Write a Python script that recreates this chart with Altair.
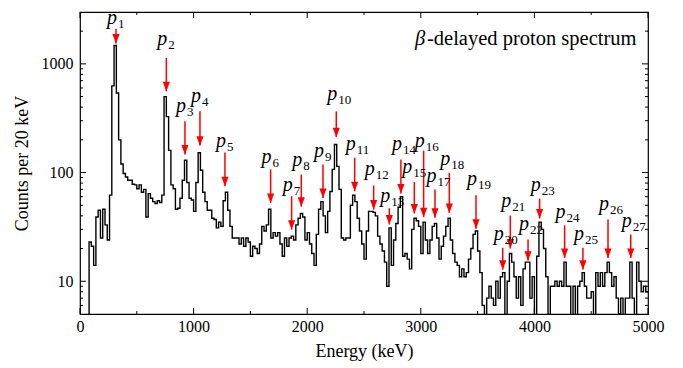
import altair as alt
import pandas as pd

W, H = 568, 302
FONT = "Liberation Serif"
RED = "#ff0000"

# ---- histogram: counts per 20 keV bin, first bin starts at 80 keV ----
bin_start = 80
bin_width = 20
counts = [
    23, 21, 14, 39, 45, 25, 46, 33, 24, 62,
    627, 1476, 540, 200, 120, 98, 91, 85, 85, 78,
    77, 71, 77, 66, 70, 39, 64, 58, 54, 52,
    55, 53, 62, 500, 327, 160, 77, 71, 46, 47,
    58, 85, 130, 81, 58, 56, 44, 81, 152, 105,
    66, 54, 45, 45, 38, 37, 31, 35, 32, 55,
    66, 45, 32, 25, 25, 25, 22, 25, 21, 25,
    23, 17, 21, 20, 18, 22, 32, 29, 33, 46,
    25, 28, 26, 28, 22, 17, 25, 21, 25, 26,
    24, 33, 38, 42, 39, 24, 28, 22, 18, 14,
    27, 46, 54, 40, 28, 44, 67, 107, 181, 114,
    70, 25, 24, 25, 25, 50, 62, 54, 38, 29,
    22, 16, 29, 44, 44, 43, 40, 26, 22, 19,
    15, 9, 31, 14, 24, 34, 48, 60, 17, 18,
    16, 13, 30, 38, 36, 32, 18, 35, 24, 18,
    24, 32, 34, 25, 16, 21, 26, 32, 38, 24,
    18, 15, 14, 11, 13, 11, 12, 16, 20, 27,
    29, 19, 12, 6, 4, 7, 9, 7, 6, 10,
    7, 11, 12, 4, 10, 18, 15, 11, 7, 11,
    6, 13, 15, 15, 7, 11, 4, 17, 35, 30,
    20, 11, 4, 9, 9, 10, 9, 10, 9, 15,
    9, 9, 4, 9, 4, 9, 10, 12, 9, 7,
    7, 8, 4, 12, 9, 12, 9, 12, 15, 12,
    9, 11, 7, 5, 7, 4, 7, 7, 15, 7,
    4, 15, 10, 8, 9, 8,
]

# ---- peak annotations ----
peak_names = [str(i) for i in range(1, 28)]
arrow_energy = [317, 760, 924, 1056, 1276, 1678, 1863, 1948, 2139, 2256,
                2418, 2585, 2723, 2825, 2943, 3025, 3125, 3251, 3486, 3721,
                3788, 3944, 4046, 4266, 4427, 4648, 4848]
arrow_tail = [2099, 1135, 297, 366, 153, 107, 60.5, 95.9, 118.6, 366,
              136.8, 75.9, 47, 131.8, 81.8, 159, 69.8, 99.5, 61.7, 20.3,
              40.2, 24.2, 57.7, 32.7, 20.3, 37, 26.9]
arrow_tip = [1538, 560, 147, 177, 74.8, 52.6, 29.9, 48.6, 58.5, 212,
             67.3, 45.7, 33.3, 64.1, 42, 38.9, 38.5, 42.6, 30.5, 12.8,
             20, 15.5, 37.8, 16.4, 12.8, 16.4, 16.4]
label_energy = [317, 760, 924, 1056, 1276, 1678, 1863, 1948, 2139, 2256,
                2418, 2585, 2723, 2825, 2915, 3025, 3130, 3251, 3486, 3721,
                3788, 3944, 4046, 4266, 4427, 4648, 4848]
label_level = [2466, 1570, 380, 470, 181, 129, 71.3, 121, 146.6, 487,
               171.8, 100, 57, 170, 104, 181, 86, 125, 80.4, 25.5,
               50.8, 31.2, 71.3, 40.2, 25.2, 47.7, 33.3]

# ---- axis ticks ----
x_major = [0, 1000, 2000, 3000, 4000, 5000]
x_minor = [500, 1500, 2500, 3500, 4500]
y_major = [10, 100, 1000]
y_minor = [6, 7, 8, 9, 20, 30, 40, 50, 60, 70, 80, 90,
           200, 300, 400, 500, 600, 700, 800, 900, 2000]

xs = alt.Scale(domain=[0, 5000], nice=False, zero=False)
ys = alt.Scale(type="log", domain=[5, 3000], nice=False)

x_axis = alt.Axis(
    values=x_major, format="d", ticks=False, tickSize=0, domain=False, grid=False,
    labelFont=FONT, labelFontSize=16, labelColor="black", labelPadding=4,
    labelFlush=False, labelOverlap=False,
    title="Energy (keV)", titleFont=FONT, titleFontSize=18,
    titleFontWeight="normal", titleColor="black", titlePadding=8)
y_axis = alt.Axis(
    values=y_major, format="d", ticks=False, tickSize=0, domain=False, grid=False,
    labelFont=FONT, labelFontSize=16, labelColor="black", labelPadding=7,
    labelFlush=False, labelOverlap=False,
    title="Counts per 20 keV", titleFont=FONT, titleFontSize=18,
    titleFontWeight="normal", titleColor="black", titlePadding=10)


def X(field):
    return alt.X(field, scale=xs, axis=x_axis)


def Y(field):
    return alt.Y(field, scale=ys, axis=y_axis)


# step outline: rise from below the axis at the first edge, close at last edge
n = len(counts)
step_x = [bin_start] + [bin_start + bin_width * i for i in range(n)] + [bin_start + bin_width * n]
step_y = [1] + counts + [counts[-1]]
hist = pd.DataFrame({"energy": step_x, "count": step_y, "i": list(range(len(step_x)))})

line = alt.Chart(hist).mark_line(
    interpolate="step-after", color="black", strokeWidth=1.4, clip=True
).encode(x=X("energy:Q"), y=Y("count:Q"), order="i:Q")


def yticks(vals, x0, x1):
    return alt.Chart(pd.DataFrame({"count": vals})).mark_rule(color="black", strokeWidth=1).encode(
        y=Y("count:Q"), x=alt.value(x0), x2=alt.value(x1))


def xticks(vals, y0, y1):
    return alt.Chart(pd.DataFrame({"energy": vals})).mark_rule(color="black", strokeWidth=1).encode(
        x=X("energy:Q"), y=alt.value(y0), y2=alt.value(y1))


tick_layers = [
    yticks(y_major, 0, 6), yticks(y_minor, 0, 3),
    yticks(y_major, W, W - 6), yticks(y_minor, W, W - 3),
    xticks(x_major, H, H - 6), xticks(x_minor, H, H - 3),
    xticks(x_major, 0, 6), xticks(x_minor, 0, 3),
]

ann = pd.DataFrame({"energy": arrow_energy, "tail": arrow_tail, "tip": arrow_tip,
                    "lx": label_energy, "label": label_level, "name": peak_names})

shaft = alt.Chart(ann).mark_rule(color=RED, strokeWidth=1.5).encode(
    x=X("energy:Q"), y=Y("tail:Q"), y2="tip:Q")

head = alt.Chart(ann).mark_point(
    shape="M-0.75,-1L0.75,-1L0,1Z", filled=True, color=RED, opacity=1,
    size=90, yOffset=-4.7, strokeWidth=0
).encode(x=X("energy:Q"), y=Y("tip:Q"))

p_text = alt.Chart(ann).mark_text(
    text="p", font=FONT, fontSize=20, fontStyle="italic", align="right",
    baseline="alphabetic", dx=1, dy=2.5, color="black"
).encode(x=X("lx:Q"), y=Y("label:Q"))

sub_text = alt.Chart(ann).mark_text(
    font=FONT, fontSize=13, align="left", baseline="alphabetic", dx=2, dy=6.5, color="black"
).encode(x=X("lx:Q"), y=Y("label:Q"), text="name:N")

title_df = pd.DataFrame({"t": ["β"], "r": ["-delayed proton spectrum"]})
beta = alt.Chart(title_df).mark_text(
    font=FONT, fontSize=20.5, fontStyle="italic", align="left", baseline="alphabetic", color="black"
).encode(x=alt.value(335), y=alt.value(33), text="t:N")
rest = alt.Chart(title_df).mark_text(
    font=FONT, fontSize=20.5, align="left", baseline="alphabetic", color="black"
).encode(x=alt.value(347), y=alt.value(33), text="r:N")

chart = alt.layer(
    line, *tick_layers, shaft, head, p_text, sub_text, beta, rest
).properties(
    width=W, height=H,
    padding={"left": 80, "top": 12, "right": 35, "bottom": 54},
    autosize=alt.AutoSizeParams(type="none"),
    background="white",
).configure_view(stroke="black", strokeWidth=1.2)

chart.save("out.html", embed_options={"renderer": "svg", "actions": False})
